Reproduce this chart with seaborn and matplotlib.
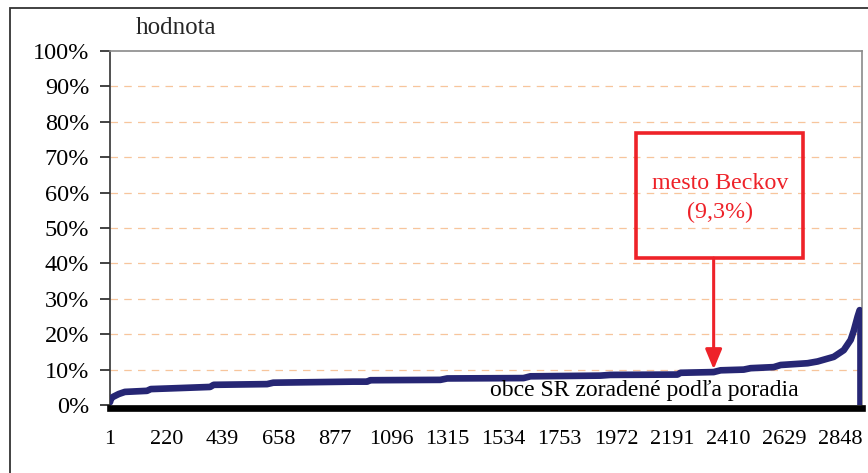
import matplotlib
matplotlib.use("Agg")
import matplotlib.pyplot as plt
import matplotlib.patches as patches
import numpy as np
import pandas as pd
import seaborn as sns

# poradie obce (x) a hodnota ukazovatela (y), odcitane z grafu
poradie = [1, 4, 13, 35, 59, 145, 160, 240, 391, 405, 613, 637, 949, 1003,
           1015, 1288, 1315, 1612, 1639, 1912, 1950, 2212, 2224, 2353, 2380,
           2470, 2497, 2587, 2614, 2719, 2758, 2821, 2860, 2887, 2899, 2914,
           2922]
hodnota = [0.008, 0.017, 0.023, 0.031, 0.037, 0.040, 0.045, 0.047, 0.051,
           0.057, 0.059, 0.063, 0.066, 0.066, 0.070, 0.071, 0.075, 0.076,
           0.081, 0.083, 0.085, 0.086, 0.091, 0.093, 0.098, 0.100, 0.104,
           0.107, 0.113, 0.118, 0.123, 0.136, 0.155, 0.184, 0.210, 0.250,
           0.268]

x_ticks = [1, 220, 439, 658, 877, 1096, 1315, 1534, 1753, 1972, 2191, 2410,
           2629, 2848]
y_ticks = [0, 0.1, 0.2, 0.3, 0.4, 0.5, 0.6, 0.7, 0.8, 0.9, 1.0]

beckov_x = 2353
beckov_val = 0.093
beckov_text = "mesto Beckov\n(9,3%)"

df = pd.DataFrame({"poradie": poradie, "hodnota": hodnota})

sns.set_theme(style="white")
plt.rcParams["font.family"] = ["Liberation Serif", "DejaVu Serif"]

navy = "#262674"
red = "#EE2229"

fig = plt.figure(figsize=(8.68, 4.73), dpi=100)
ax = fig.add_axes([110/868, 1 - 405/473, 752/868, 354/473])

# horizontal dashed grid
for yv in y_ticks[1:-1]:
    ax.axhline(yv, color="#F7C59C", lw=0.9, dashes=(6, 5), zorder=0)

sns.lineplot(data=df, x="poradie", y="hodnota", color=navy, lw=4.8,
             ax=ax, zorder=3, solid_capstyle="round")
ax.vlines(poradie[-1] + 3, 0, hodnota[-1], color=navy, lw=4.8, zorder=3)

ax.set_xlim(1, 2931)
ax.set_ylim(0, 1)
ax.set_xticks(x_ticks)
ax.set_xticklabels([str(t) for t in x_ticks])
ax.set_yticks(y_ticks)
ax.set_yticklabels([f"{int(round(t*100))}%" for t in y_ticks])
ax.tick_params(axis="y", which="major", direction="out", length=7, width=1.2,
               color="#222222", left=True, pad=8, labelsize=17.5,
               labelcolor="black")
ax.tick_params(axis="x", length=0, pad=16, labelsize=16, labelcolor="black")
ax.set_xlabel("")
ax.set_ylabel("")

for side in ["top", "right"]:
    ax.spines[side].set_color("#8A8A8A")
    ax.spines[side].set_linewidth(1.2)
ax.spines["left"].set_color("#333333")
ax.spines["left"].set_linewidth(1.2)
ax.spines["bottom"].set_color("black")
ax.spines["bottom"].set_linewidth(4.8)
ax.spines["bottom"].set_position(("outward", 2))

ax.text(0.505, 0.04, "obce SR zoradené podľa poradia", transform=ax.transAxes,
        fontsize=17, ha="left", va="center", color="black", zorder=4)

# annotation box for Beckov
box = patches.Rectangle((2052, 0.415), 651, 0.353, fill=False,
                        edgecolor=red, lw=2.6, zorder=5)
ax.add_patch(box)
ax.text((2052 + 2703) / 2, 0.585, beckov_text, color=red, fontsize=17.3,
        ha="center", va="center", linespacing=1.45, zorder=5)
ax.annotate("", xy=(beckov_x, beckov_val), xytext=(beckov_x, 0.415),
            arrowprops=dict(arrowstyle="-|>,head_length=0.6,head_width=0.25",
                            color=red, lw=2.2, mutation_scale=20,
                            shrinkA=0, shrinkB=2), zorder=5)

fig.text(176/868, 1 - 28/473, "hodnota", fontsize=18, ha="center",
         va="center")

# outer chart border
fig.patches.append(patches.Rectangle((10/868, -0.1), 1.2, 1 - 8/473 + 0.1,
                                     transform=fig.transFigure, fill=False,
                                     edgecolor="#333333", lw=1.3))

fig.savefig("out.png", dpi=100)
